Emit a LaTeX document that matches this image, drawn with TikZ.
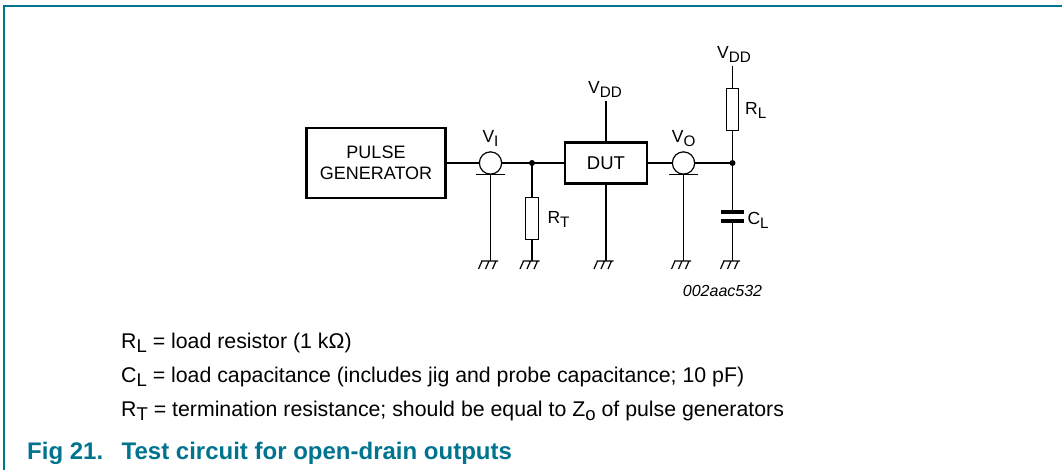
\documentclass[tikz,border=0pt]{standalone}
\usepackage{fontspec}
\setmainfont{Liberation Sans}
\usetikzlibrary{calc}
\definecolor{nxpteal}{RGB}{0,116,142}
\newcommand{\lsub}[1]{\raisebox{-0.22em}{\scalebox{0.87}{#1}}}
\begin{document}
\begin{tikzpicture}[x=1pt,y=-1pt,
  wire/.style={line width=1.2pt},
  blk/.style={draw,line width=2.7pt,inner sep=0pt,align=center},
  probe/.style={circle,draw,fill=white,line width=1.2pt,minimum size=22.3pt,inner sep=0pt},
  res/.style={rectangle,draw,fill=white,line width=1.2pt,minimum width=12.5pt,minimum height=42.5pt,inner sep=0pt},
  lbl/.style={inner sep=0pt,font=\fontsize{17.5}{20}\selectfont},
  body/.style={inner sep=0pt,anchor=base west,font=\fontsize{21.3}{25}\selectfont},
  figtitle/.style={inner sep=0pt,anchor=base west,text=nxpteal,font=\bfseries\fontsize{24}{28}\selectfont},
  jdot/.style={circle,fill,inner sep=0pt,minimum size=6pt},
  plate/.style={line width=4pt},
  gnd/.pic={\draw[line width=1.2pt] (-9.5,0) -- (7.5,0) (-8.5,0) -- (-12,8) (-1.5,0) -- (-5,8) (5.5,0) -- (2,8);}
]
\useasboundingbox (0,0) rectangle (1062,470);
% frame
\draw[nxpteal,line width=1.5pt] (4,470) -- (4,6) -- (1062,6);

% blocks
\node[blk,minimum width=139.5pt,minimum height=70pt,font=\fontsize{18}{21}\selectfont] (pg) at (376,163) {PULSE\\GENERATOR};
\node[blk,minimum width=82pt,minimum height=41.5pt,font=\fontsize{18.5}{21}\selectfont] (dut) at (606,163) {DUT};

% probes, junctions, resistors
\node[probe] (vi) at (490.5,163) {};
\node[probe] (vo) at (683.5,163) {};
\node[jdot] (j1) at (532,163) {};
\node[jdot] (j2) at (732.5,163) {};
\node[res] (rt) at (532,218.5) {};
\node[res] (rl) at (732.5,109.5) {};

% coordinates
\coordinate (vddA) at (606,101.5);
\coordinate (vddB) at (732.5,66.5);
\coordinate (capT) at (732.5,210);
\coordinate (capB) at (732.5,223);
\coordinate (g1) at (490.5,261);
\coordinate (g2) at (532,261);
\coordinate (g3) at (606,261);
\coordinate (g4) at (683.5,261);
\coordinate (g5) at (732.5,261);

% wires
\draw[wire] (pg.east) -- (vi.west);
\draw[wire] (vi.east) -- (dut.west);
\draw[wire] (dut.east) -- (vo.west);
\draw[wire] (vo.east) -- (j2.center);
\draw[wire] (j1.center) -- (rt.north);
\draw[wire] (rt.south) -- (g2);
\draw[wire] (dut.north) -- (vddA);
\draw[wire] (dut.south) -- (g3);
\draw[wire] (vi.south) -- (g1);
\draw[wire] (vo.south) -- (g4);
\draw[wire] (j2.center) -- (rl.south);
\draw[wire] (rl.north) -- (vddB);
\draw[wire] (j2.center) -- (capT);
\draw[wire] (capB) -- (g5);
\draw[wire] ($(vi.south)+(-14.5,0)$) -- ($(vi.south)+(14.5,0)$);
\draw[wire] ($(vo.south)+(-14.5,0)$) -- ($(vo.south)+(14.5,0)$);
\draw[plate] (721,212) -- (743.5,212);
\draw[plate] (721,221) -- (743.5,221);

% grounds
\foreach \g in {g1,g2,g3,g4,g5} \pic at (\g) {gnd};

% labels
\node[lbl,anchor=base] (vddlA) at (605,93.3) {V\lsub{DD}};
\node[lbl,anchor=base] (vddlB) at (734,58.3) {V\lsub{DD}};
\node[lbl,anchor=base] (vil) at (490.5,142.3) {V\lsub{I}};
\node[lbl,anchor=base] (vol) at (683.7,142.7) {V\lsub{O}};
\node[lbl,anchor=base west] (rll) at (745,115) {R\lsub{L}};
\node[lbl,anchor=base west] (cll) at (747.3,224.3) {C\lsub{L}};
\node[lbl,anchor=base west] (rtl) at (547.3,223.4) {R\lsub{T}};
\node[inner sep=0pt,anchor=base,font=\itshape\fontsize{16}{18}\selectfont] (code) at (722.5,296.5) {002aac532};

% notes
\node[body] (n1) at (121,348) {R\lsub{L} = load resistor (1 kΩ)};
\node[body] (n2) at (121,382) {C\lsub{L} = load capacitance (includes jig and probe capacitance; 10 pF)};
\node[body] (n3) at (121,416) {R\lsub{T} = termination resistance; should be equal to Z\lsub{o} of pulse generators};
\node[figtitle] (fig) at (27,459) {Fig 21.};
\node[figtitle] (ttl) at (121.5,459) {Test circuit for open-drain outputs};
\end{tikzpicture}
\end{document}
